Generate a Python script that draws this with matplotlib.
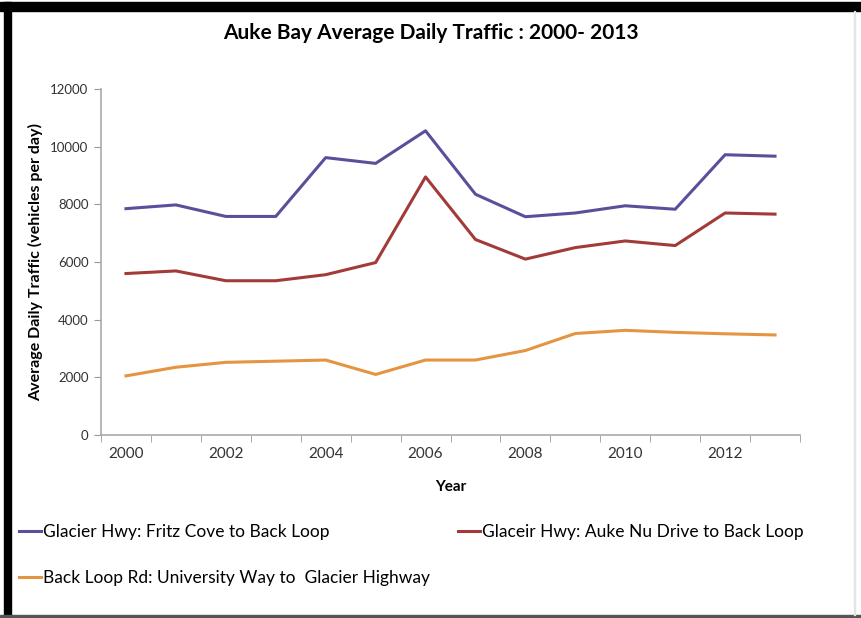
import matplotlib.pyplot as plt
from matplotlib.patches import Rectangle
import numpy as np

years = list(range(2000, 2014))
fritz_cove = [7850, 7980, 7580, 7580, 9620, 9420, 10550, 8350, 7570, 7700, 7950, 7830, 9720, 9670]
auke_nu = [5600, 5690, 5350, 5350, 5560, 5980, 8950, 6780, 6100, 6500, 6730, 6570, 7700, 7660]
back_loop = [2050, 2350, 2520, 2560, 2600, 2100, 2600, 2600, 2930, 3520, 3630, 3560, 3510, 3470]

labels = ['Glacier Hwy: Fritz Cove to Back Loop',
          'Glaceir Hwy: Auke Nu Drive to Back Loop',
          'Back Loop Rd: University Way to  Glacier Highway']
colors = ['#5d4e9c', '#a23b38', '#e59441']

plt.rcParams['font.family'] = ['Lato', 'DejaVu Sans']

W, H = 861, 618
fig = plt.figure(figsize=(W / 100, H / 100), dpi=100)
fig.patch.set_facecolor('white')

# black frame of the screenshot
fig.patches.append(Rectangle((0, 1 - 11 / H), 1, 9 / H, transform=fig.transFigure, color='black', zorder=10))
fig.patches.append(Rectangle((4 / W, 0), 7 / W, 1 - 2 / H, transform=fig.transFigure, color='black', zorder=10))
fig.patches.append(Rectangle((0, 0), 1, 3 / H, transform=fig.transFigure, color='#555555', zorder=10))
fig.patches.append(Rectangle((854 / W, 3 / H), 1 / W, 1 - 14 / H, transform=fig.transFigure, color='#e4e4e4', zorder=10))

ax = fig.add_axes([101 / W, 1 - 435 / H, 699 / W, 346 / H])
l1, = ax.plot(years, fritz_cove, color=colors[0], lw=2.2, label=labels[0])
l2, = ax.plot(years, auke_nu, color=colors[1], lw=2.2, label=labels[1])
l3, = ax.plot(years, back_loop, color=colors[2], lw=2.2, label=labels[2])

ax.set_xlim(1999.5, 2013.5)
ax.set_ylim(0, 12000)
ax.set_yticks(np.arange(0, 12001, 2000))
ax.set_xticks(years[::2])
ax.set_xticks(np.arange(1999.5, 2014, 1), minor=True)
ax.tick_params(axis='x', which='major', length=0, pad=9, labelsize=11, labelcolor='#333333')
ax.tick_params(axis='x', which='minor', length=5, color='#999999', direction='out')
ax.tick_params(axis='y', length=5, color='#999999', direction='out', labelsize=9.5, labelcolor='#333333', pad=4)

for s in ['top', 'right']:
    ax.spines[s].set_visible(False)
for s in ['left', 'bottom']:
    ax.spines[s].set_color('#aaaaaa')
    ax.spines[s].set_linewidth(1.2)

ax.set_xlabel('Year', fontsize=11, fontweight='bold', labelpad=13)
ax.set_ylabel('Average Daily Traffic (vehicles per day)', fontsize=11.5, fontweight='bold', labelpad=5)
fig.text(0.5, 1 - 33 / H, 'Auke Bay Average Daily Traffic : 2000- 2013',
         ha='center', va='center', fontsize=15, fontweight='bold')

fig.legend([l1, l3, l2], [labels[0], labels[2], labels[1]], ncol=2, frameon=False,
           loc='upper left', bbox_to_anchor=(3 / W, 1 - 508 / H),
           fontsize=12.5, handlelength=1.3, handletextpad=0.1,
           columnspacing=1.6, labelspacing=1.75)

fig.savefig('out.png', dpi=100)
